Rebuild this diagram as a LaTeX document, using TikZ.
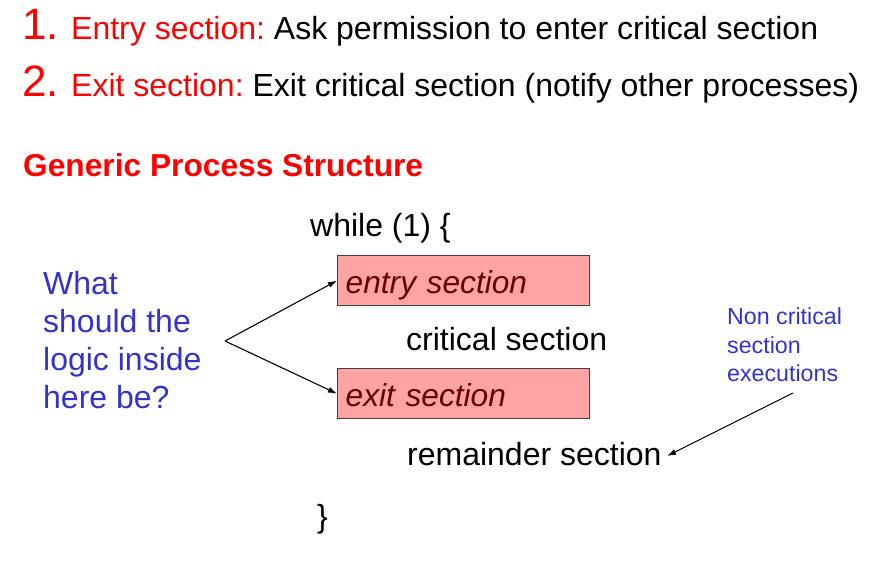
\documentclass[tikz,border=0pt]{standalone}
\usepackage{fontspec}
\setmainfont{Liberation Sans}
\usetikzlibrary{arrows.meta}
\frenchspacing
\definecolor{pptred}{HTML}{FF0000}
\definecolor{qblue}{HTML}{3333CC}
\definecolor{boxfill}{HTML}{FFA3A3}
\definecolor{boxtext}{HTML}{660000}
\definecolor{boxline}{HTML}{404040}
\tikzset{
  txt/.style={anchor=base west, inner sep=0pt, font=\fontsize{32}{38}\selectfont},
  bignum/.style={anchor=base west, inner sep=0pt, text=pptred, font=\fontsize{44}{50}\selectfont},
  secbox/.style={draw=boxline, line width=1.3pt, fill=boxfill, text=boxtext,
    anchor=north west, minimum width=252pt, minimum height=50pt,
    text width=236pt, align=left, inner xsep=8pt, inner ysep=0pt,
    text height=30pt, text depth=4pt,
    font=\fontsize{31.7}{38}\selectfont\itshape},
  ptr/.style={-{Latex[length=9pt,width=6pt]}, line width=1.1pt, black},
}
\begin{document}
\begin{tikzpicture}[x=1pt,y=-1pt]
\useasboundingbox (0,0) rectangle (886,561);
\node[bignum] (n1) at (22,40) {1.};
\node[txt] (l1) at (71,40) {\textcolor{pptred}{Entry section:} Ask permission to enter critical section};
\node[bignum] (n2) at (22,97) {2.};
\node[txt] (l2) at (71,97) {\textcolor{pptred}{Exit section:} Exit critical section (notify other processes)};
\node[txt, text=pptred, font=\fontsize{31.7}{38}\selectfont\bfseries] (title) at (23,177) {Generic Process Structure};
\node[txt] (while) at (310,237) {while (1) \{};
\node[secbox] (entry) at (337,255) {entry section};
\node[txt] (crit) at (406,350) {critical section};
\node[secbox] (exit) at (337,368) {exit section};
\node[txt] (rem) at (407,465) {remainder section};
\node[txt] (close) at (317,527) {\}};
\node[anchor=north west, inner sep=0pt, align=left, text=qblue,
  font=\fontsize{32}{38}\selectfont] (question) at (43,271) {What\\should the\\logic inside\\here be?};
\node[anchor=north west, inner sep=0pt, align=left, text=qblue,
  font=\fontsize{23.2}{28.5}\selectfont] (note) at (727,307.5) {Non critical\\section\\executions};
\coordinate (q) at (225,341);
\coordinate (ns) at (793,393);
\coordinate (ne) at (667,456);
\draw[ptr] (q) -- (entry.west);
\draw[ptr] (q) -- (exit.west);
\draw[ptr] (ns) -- (ne);
\end{tikzpicture}
\end{document}
